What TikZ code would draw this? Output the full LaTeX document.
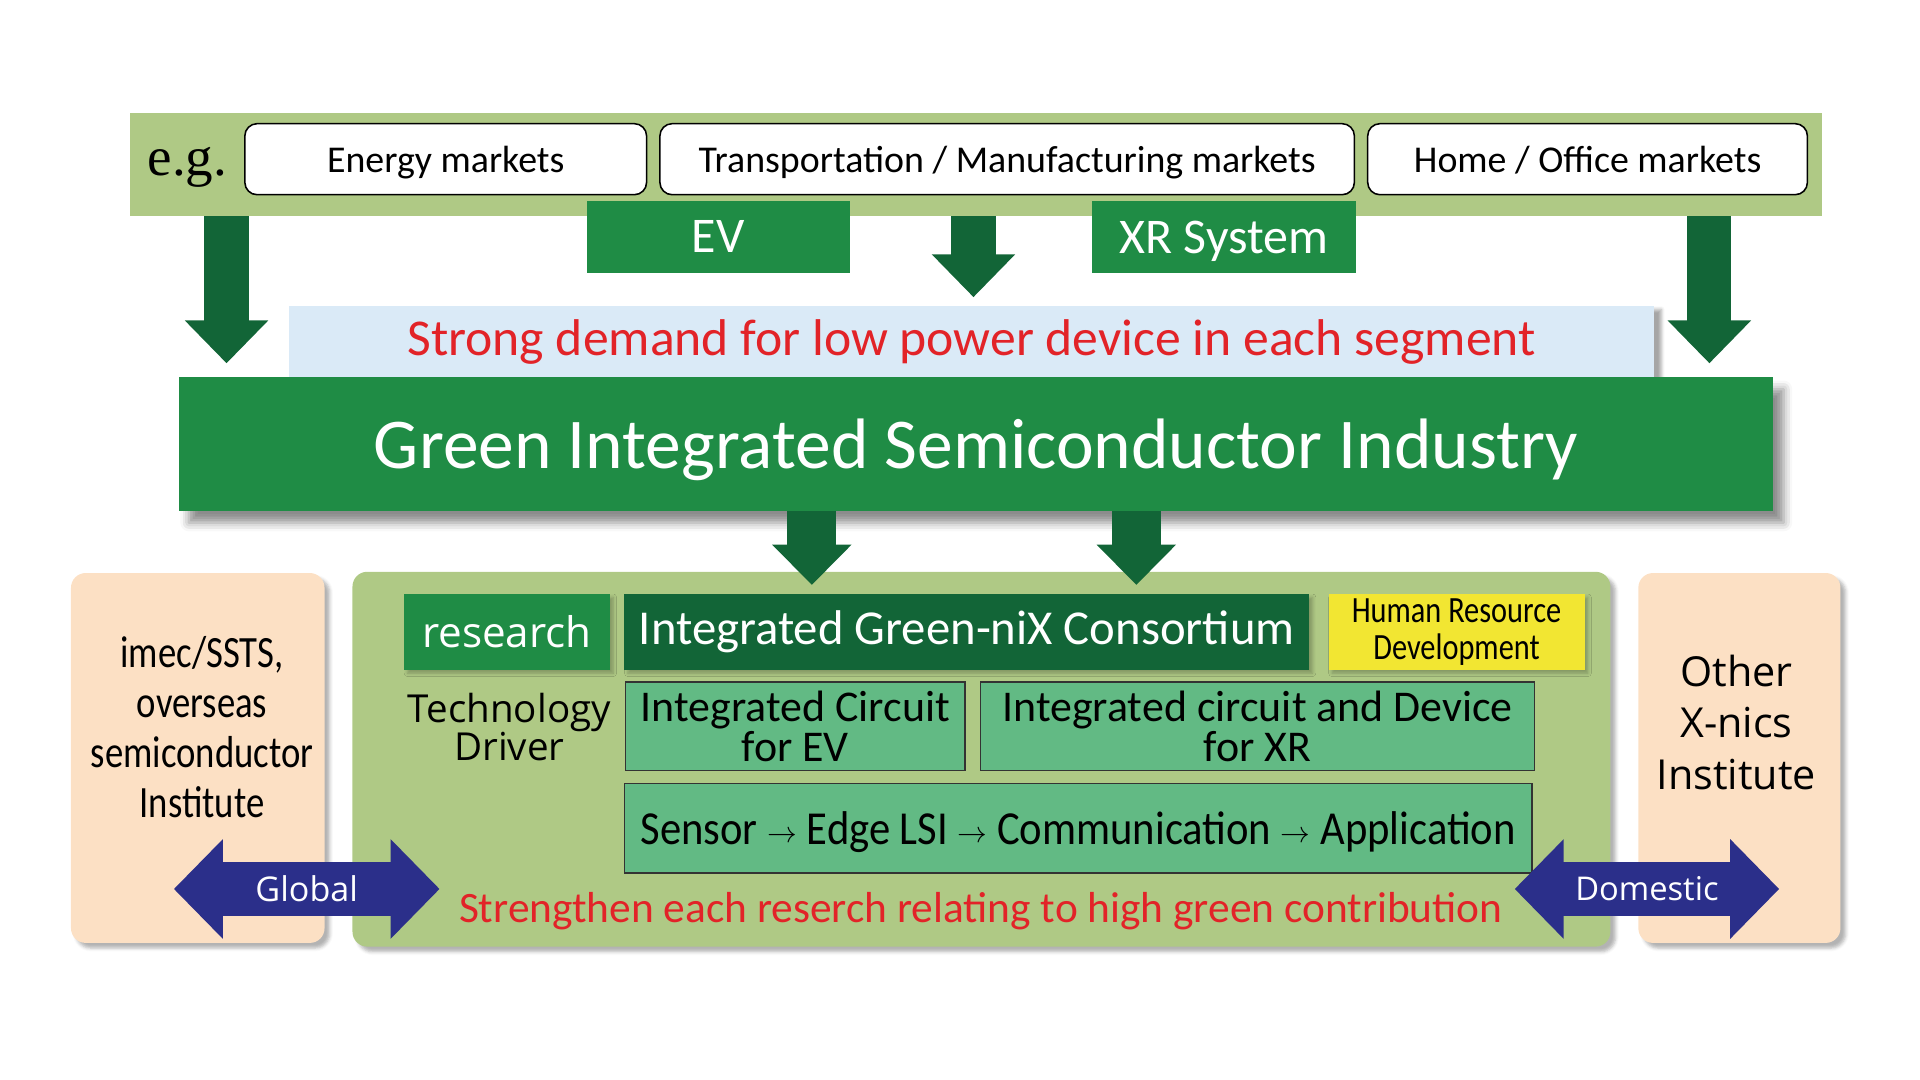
\documentclass[tikz,border=0pt]{standalone}
\usepackage{fontspec}
\setmainfont{Carlito}
\newfontfamily\widefont{Open Sans}
\newfontfamily\condfont[FakeStretch=0.82]{Carlito}
\newfontfamily\chainfont[FakeStretch=0.9]{Carlito}
\newfontfamily\egfont{Liberation Serif}
\usepackage{tikz}
\usetikzlibrary{positioning,arrows.meta,calc,shadows.blur}
\definecolor{bandgreen}{RGB}{175,201,133}
\definecolor{midgreen}{RGB}{31,140,69}
\definecolor{darkgreen}{RGB}{18,101,55}
\definecolor{skyblue}{RGB}{218,234,247}
\definecolor{peach}{RGB}{252,224,196}
\definecolor{boxgreen}{RGB}{98,186,132}
\definecolor{hryellow}{RGB}{242,230,50}
\definecolor{navy}{RGB}{43,47,138}
\definecolor{demandred}{RGB}{226,35,40}
\newcommand\chainarrow{\raisebox{1.5pt}{\fontsize{17}{17}\selectfont$\rightarrow$}}

\begin{document}
\begin{tikzpicture}[x=0.025cm, y=-0.025cm,
    market/.style={rectangle, rounded corners=0.25cm, draw=black, line width=0.9pt,
                   fill=white, minimum height=1.45cm, inner sep=0pt, text depth=0pt,
                   font=\fontsize{22}{24}\selectfont},
    segment/.style={rectangle, fill=midgreen, text=white, minimum width=5.375cm, text depth=0pt,
                    minimum height=1.475cm, inner sep=0pt, font=\fontsize{29}{30}\selectfont},
    institute/.style={rectangle, rounded corners=0.3cm, fill=peach, minimum height=7.55cm,
                      inner sep=0pt, blur shadow={shadow xshift=3pt, shadow yshift=-3pt, shadow opacity=30}},
    header/.style={rectangle, minimum height=1.55cm, inner sep=0pt,
                   blur shadow={shadow xshift=2pt, shadow yshift=-2pt, shadow opacity=25}},
    theme/.style={rectangle, fill=boxgreen, draw=black!80, line width=0.8pt, inner sep=0pt,
                  align=center, font=\fontsize{25.5}{23}\selectfont},
    downarrow/.style={darkgreen, line width=0.9cm, -{Triangle[width=1.65cm, length=0.875cm]}},
    feedarrow/.style={darkgreen, line width=1.0cm, -{Triangle[width=1.575cm, length=0.825cm]}},
    linkarrow/.style={navy, line width=1.1cm,
                      {Triangle[width=1.975cm, length=1.0cm]}-{Triangle[width=1.975cm, length=1.0cm]}}
]
\useasboundingbox (0,0) rectangle (1568,882);

% markets
\node[rectangle, fill=bandgreen, minimum width=34.55cm, minimum height=2.1cm, inner sep=0pt] (band) at (797,134) {};
\node[font=\egfont\fontsize{32}{32}\selectfont] (eg) at (153,137) {e.g.};
\node[market, minimum width=8.2cm] (energy) at (364,130) {Energy markets};
\node[market, minimum width=14.175cm] (transport) at (822.5,130) {Transportation / Manufacturing markets};
\node[market, minimum width=8.975cm] (home) at (1296.5,130) {Home / Office markets};
\node[segment] (ev) at (586.5,193.5) {EV};
\node[segment] (xr) at (999.5,193.5) {XR System};

% industry
\node[rectangle, fill=skyblue, minimum width=27.875cm, minimum height=1.45cm, inner sep=0pt,
      text=demandred, font=\fontsize{30}{30}\selectfont,
      blur shadow={shadow xshift=4pt, shadow yshift=-2pt, shadow opacity=35}] (demand) at (793.5,279)
    {Strong demand for low power device in each segment};
\node[rectangle, fill=midgreen, minimum width=32.55cm, minimum height=2.725cm, inner sep=0pt,
      text=white, text depth=0pt, font=\fontsize{41.5}{42}\selectfont,
      blur shadow={shadow xshift=6pt, shadow yshift=-7pt, shadow opacity=45, shadow blur radius=5pt}] (gsi) at (797,362.5)
    {Green Integrated Semiconductor Industry};

\draw[downarrow] (185,0 |- band.south) -- ($(185,0 |- gsi.north)+(0,-11)$);
\draw[downarrow] (795,0 |- band.south) -- ($(795,0 |- demand.north)+(0,-7)$);
\draw[downarrow] (1396,0 |- band.south) -- ($(1396,0 |- gsi.north)+(0,-11)$);

% research
\node[institute, minimum width=5.175cm] (imec) at (161.5,619) {};
\node[rectangle, rounded corners=0.3cm, fill=bandgreen, minimum width=25.675cm, minimum height=7.65cm,
      inner sep=0pt, blur shadow={shadow xshift=3pt, shadow yshift=-3pt, shadow opacity=30}] (program) at (801.5,620) {};
\node[institute, minimum width=4.125cm] (xnics) at (1420.5,619) {};

\node[align=center, font=\condfont\fontsize{26}{29}\selectfont] (imectext) at (165,594)
    {imec/SSTS,\\overseas\\semiconductor\\Institute};
\node[align=center, font=\widefont\fontsize{24}{30}\selectfont] (xnicstext) at (1418,590)
    {Other\\X-nics\\Institute};

\node[header, fill=midgreen, text=white, minimum width=4.2cm, font=\widefont\fontsize{24.5}{25}\selectfont] (research) at (414,516) {research};
\node[header, fill=darkgreen, text=white, minimum width=13.975cm, font=\fontsize{28.3}{29}\selectfont] (consortium) at (789.5,516)
    {Integrated Green-niX Consortium};
\node[header, fill=hryellow, minimum width=5.225cm, align=center, font=\condfont\fontsize{21.5}{21.5}\selectfont] (hrd) at (1189.5,516)
    {Human Resource\\Development};

\node[align=center, font=\widefont\fontsize{22.4}{22}\selectfont] (driver) at (416,594) {Technology\\Driver};
\node[theme, minimum width=6.925cm, minimum height=1.8cm] (icev) at (649.5,593) {Integrated Circuit\\for EV};
\node[theme, minimum width=11.3cm, minimum height=1.8cm] (icxr) at (1027,593) {Integrated circuit and Device\\for XR};
\node[theme, minimum width=18.525cm, minimum height=1.825cm, text depth=0pt, font=\chainfont\fontsize{27.5}{27}\selectfont] (chain) at (880.5,676.5)
    {Sensor \chainarrow{} Edge LSI \chainarrow{} Communication \chainarrow{} Application};

\node[text=demandred, font=\fontsize{25.2}{26}\selectfont] (strengthen) at (801,744)
    {Strengthen each reserch relating to high green contribution};

\draw[feedarrow] (663,0 |- gsi.south) -- ($(663,0 |- consortium.north)+(0,-7)$);
\draw[feedarrow] (928,0 |- gsi.south) -- ($(928,0 |- consortium.north)+(0,-7)$);

% links
\coordinate (globalL) at (142,726);
\coordinate (globalR) at (359,726);
\coordinate (domesticL) at (1237,726);
\coordinate (domesticR) at (1453,726);
\draw[linkarrow] (globalL) -- (globalR)
    node[midway, text=white, font=\widefont\fontsize{19.8}{20}\selectfont] (global) {Global};
\draw[linkarrow] (domesticL) -- (domesticR)
    node[midway, text=white, font=\widefont\fontsize{19}{20}\selectfont] (domestic) {Domestic};
\end{tikzpicture}
\end{document}
